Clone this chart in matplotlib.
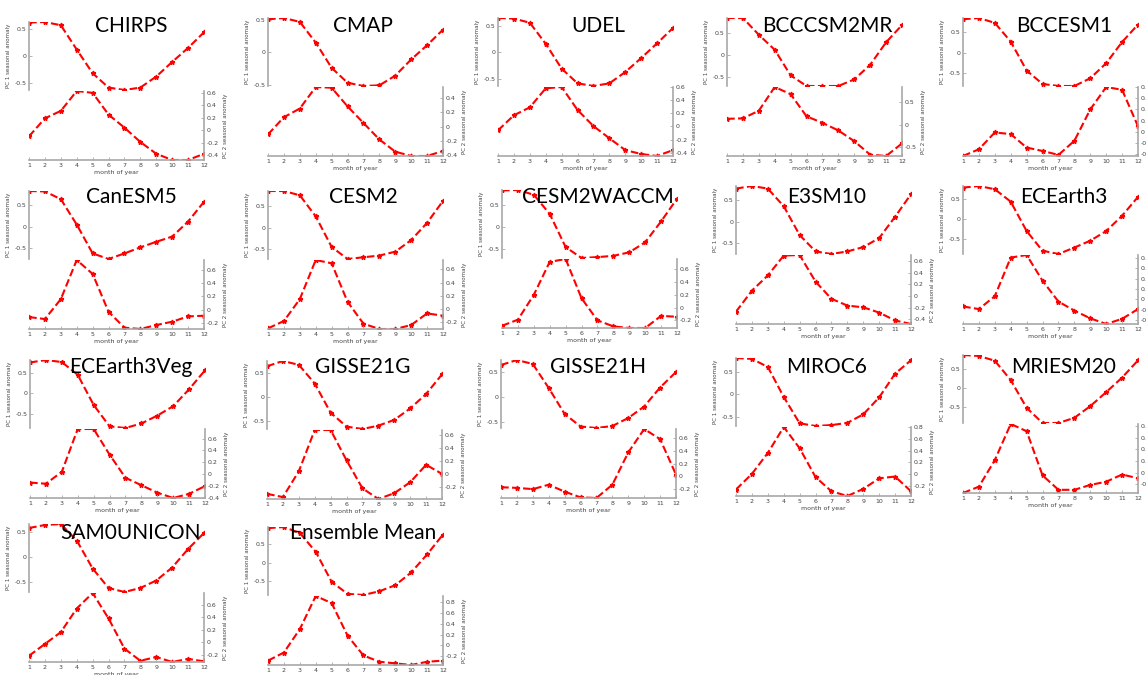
import numpy as np
import matplotlib
matplotlib.use("Agg")
import matplotlib.pyplot as plt
from matplotlib.ticker import MultipleLocator, FuncFormatter

plt.rcParams['axes.unicode_minus'] = False

months = list(range(1, 13))

models = ["CHIRPS", "CMAP", "UDEL", "BCCCSM2MR", "BCCESM1",
          "CanESM5", "CESM2", "CESM2WACCM", "E3SM10", "ECEarth3",
          "ECEarth3Veg", "GISSE21G", "GISSE21H", "MIROC6", "MRIESM20",
          "SAM0UNICON", "Ensemble Mean"]

# PC1 / PC2 seasonal anomaly
chirps_pc1 = [0.62, 0.63, 0.57, 0.12, -0.32, -0.585, -0.63, -0.585, -0.38, -0.11, 0.15, 0.44]
chirps_pc2 = [-0.10, 0.19, 0.31, 0.63, 0.60, 0.25, 0.04, -0.19, -0.38, -0.48, -0.48, -0.38]
cmap_pc1 = [0.51, 0.53, 0.47, 0.15, -0.24, -0.47, -0.52, -0.51, -0.36, -0.11, 0.11, 0.35]
cmap_pc2 = [-0.11, 0.13, 0.25, 0.55, 0.54, 0.28, 0.05, -0.18, -0.35, -0.41, -0.41, -0.34]
udel_pc1 = [0.65, 0.64, 0.56, 0.16, -0.31, -0.59, -0.64, -0.59, -0.375, -0.11, 0.17, 0.46]
udel_pc2 = [-0.06, 0.17, 0.29, 0.58, 0.60, 0.25, 0.005, -0.18, -0.36, -0.42, -0.45, -0.36]
bcccsm2mr_pc1 = [0.83, 0.83, 0.45, 0.11, -0.47, -0.71, -0.71, -0.71, -0.56, -0.23, 0.28, 0.67]
bcccsm2mr_pc2 = [0.13, 0.14, 0.31, 0.84, 0.68, 0.185, 0.04, -0.13, -0.37, -0.67, -0.70, -0.42]
bccesm1_pc1 = [0.82, 0.85, 0.73, 0.27, -0.44, -0.77, -0.82, -0.82, -0.63, -0.26, 0.26, 0.69]
bccesm1_pc2 = [-0.43, -0.31, -0.01, -0.04, -0.28, -0.34, -0.41, -0.16, 0.40, 0.80, 0.75, 0.10]
canesm5_pc1 = [0.83, 0.82, 0.64, 0.05, -0.62, -0.75, -0.62, -0.48, -0.35, -0.23, 0.12, 0.58]
canesm5_pc2 = [-0.11, -0.14, 0.16, 0.75, 0.54, -0.03, -0.27, -0.29, -0.23, -0.18, -0.10, -0.09]
cesm2_pc1 = [0.85, 0.85, 0.75, 0.26, -0.45, -0.73, -0.69, -0.65, -0.56, -0.29, 0.11, 0.62]
cesm2_pc2 = [-0.29, -0.18, 0.15, 0.74, 0.69, 0.11, -0.22, -0.30, -0.30, -0.24, -0.065, -0.10]
cesm2waccm_pc1 = [0.84, 0.85, 0.74, 0.30, -0.46, -0.71, -0.69, -0.66, -0.58, -0.35, 0.13, 0.65]
cesm2waccm_pc2 = [-0.285, -0.19, 0.20, 0.715, 0.76, 0.145, -0.20, -0.295, -0.32, -0.32, -0.13, -0.145]
e3sm10_pc1 = [0.77, 0.83, 0.77, 0.36, -0.31, -0.69, -0.75, -0.69, -0.59, -0.38, 0.115, 0.64]
e3sm10_pc2 = [-0.27, 0.09, 0.35, 0.69, 0.70, 0.245, -0.05, -0.165, -0.195, -0.285, -0.42, -0.48]
ecearth3_pc1 = [0.78, 0.82, 0.74, 0.43, -0.30, -0.79, -0.87, -0.71, -0.54, -0.30, 0.08, 0.55]
ecearth3_pc2 = [-0.14, -0.19, 0.06, 0.81, 0.86, 0.36, -0.045, -0.22, -0.37, -0.48, -0.38, -0.19]
ecearth3veg_pc1 = [0.75, 0.81, 0.76, 0.45, -0.28, -0.80, -0.84, -0.73, -0.54, -0.31, 0.10, 0.56]
ecearth3veg_pc2 = [-0.14, -0.16, 0.04, 0.76, 0.76, 0.33, -0.06, -0.185, -0.31, -0.40, -0.33, -0.20]
gisse21g_pc1 = [0.65, 0.76, 0.68, 0.29, -0.32, -0.61, -0.66, -0.59, -0.47, -0.23, 0.07, 0.48]
gisse21g_pc2 = [-0.31, -0.36, 0.04, 0.68, 0.68, 0.21, -0.225, -0.39, -0.30, -0.13, 0.14, 0.0]
gisse21h_pc1 = [0.63, 0.73, 0.65, 0.17, -0.35, -0.60, -0.63, -0.59, -0.43, -0.20, 0.18, 0.49]
gisse21h_pc2 = [-0.17, -0.18, -0.20, -0.13, -0.24, -0.33, -0.34, -0.13, 0.38, 0.75, 0.59, 0.03]
miroc6_pc1 = [0.81, 0.79, 0.61, -0.06, -0.65, -0.71, -0.69, -0.64, -0.45, -0.07, 0.46, 0.76]
miroc6_pc2 = [-0.26, 0.005, 0.36, 0.80, 0.44, -0.05, -0.29, -0.37, -0.25, -0.07, -0.04, -0.29]
mriesm20_pc1 = [0.87, 0.845, 0.72, 0.215, -0.51, -0.905, -0.905, -0.77, -0.465, -0.10, 0.28, 0.73]
mriesm20_pc2 = [-0.355, -0.245, 0.215, 0.84, 0.715, -0.05, -0.30, -0.30, -0.215, -0.16, -0.035, -0.10]
sam0unicon_pc1 = [0.58, 0.64, 0.66, 0.33, -0.23, -0.62, -0.70, -0.62, -0.47, -0.21, 0.16, 0.48]
sam0unicon_pc2 = [-0.22, -0.03, 0.16, 0.54, 0.79, 0.38, -0.105, -0.30, -0.24, -0.32, -0.27, -0.31]
ensmean_pc1 = [0.92, 0.95, 0.79, 0.29, -0.51, -0.83, -0.86, -0.76, -0.60, -0.26, 0.22, 0.75]
ensmean_pc2 = [-0.28, -0.13, 0.30, 0.91, 0.78, 0.18, -0.185, -0.30, -0.33, -0.36, -0.30, -0.28]

pc1_all = [chirps_pc1, cmap_pc1, udel_pc1, bcccsm2mr_pc1, bccesm1_pc1,
           canesm5_pc1, cesm2_pc1, cesm2waccm_pc1, e3sm10_pc1, ecearth3_pc1,
           ecearth3veg_pc1, gisse21g_pc1, gisse21h_pc1, miroc6_pc1, mriesm20_pc1,
           sam0unicon_pc1, ensmean_pc1]
pc2_all = [chirps_pc2, cmap_pc2, udel_pc2, bcccsm2mr_pc2, bccesm1_pc2,
           canesm5_pc2, cesm2_pc2, cesm2waccm_pc2, e3sm10_pc2, ecearth3_pc2,
           ecearth3veg_pc2, gisse21g_pc2, gisse21h_pc2, miroc6_pc2, mriesm20_pc2,
           sam0unicon_pc2, ensmean_pc2]

# layout in pixels (panels were pasted by hand, so small nudges per panel)
W, H = 1146, 675
col_left = [29, 268, 500, 733, 963]
title_cx = [131, 363, 598, 827, 1064]
ax_w = 175
row_top = [18, 189, 359, 525]
panel_h = 138
nudge_x = [0, 0, -2, -6, 0,
           0, 0, 2, 3, 0,
           1, -1, 1, 3, 0,
           0, 0]
nudge_y = [4, 0, 0, 0, 0,
           2, 2, 1, -3, -3,
           1, 2, 1, -1, -4,
           -1, 2]
SPINE = '#a8a8a8'
TXT = '#444444'


def fmt(v, pos):
    v = round(v, 3)
    if abs(v) < 1e-9:
        return '0'
    return '%g' % v


def style_line(ax, y):
    ax.plot(months, y, color='red', ls='--', lw=1.5, marker='*', ms=3.5,
            dashes=(3.7, 1.6))


def rect(x, y, w, h):
    return [x / W, 1 - (y + h) / H, w / W, h / H]


fig = plt.figure(figsize=(W / 100, H / 100), dpi=100)

for i, name in enumerate(models):
    r, c = divmod(i, 5)
    x0 = col_left[c] + nudge_x[i]
    y0 = row_top[r] + nudge_y[i]
    half = panel_h / 2.0
    p1 = pc1_all[i]
    p2 = pc2_all[i]

    # upper axes: PC1 with left axis only
    ax1 = fig.add_axes(rect(x0, y0, ax_w, half - 1))
    style_line(ax1, p1)
    ax1.set_xlim(1, 12)
    ax1.set_ylim(min(p1), max(p1))
    ax1.patch.set_alpha(0)
    for s in ['top', 'right', 'bottom']:
        ax1.spines[s].set_visible(False)
    ax1.spines['left'].set_color(SPINE)
    ax1.spines['left'].set_linewidth(1.2)
    ax1.set_xticks([])
    ax1.yaxis.set_major_locator(MultipleLocator(0.5))
    ax1.yaxis.set_major_formatter(FuncFormatter(fmt))
    ax1.tick_params(axis='y', direction='in', length=2, width=0.6, color=SPINE,
                    labelsize=4.5, labelcolor=TXT, pad=2)
    ax1.set_ylabel('PC 1 seasonal anomaly', fontsize=4, color=TXT, labelpad=2)

    # lower axes: PC2 with right axis and month axis
    ax2 = fig.add_axes(rect(x0, y0 + half, ax_w, half))
    style_line(ax2, p2)
    ax2.set_xlim(1, 12)
    ax2.set_ylim(min(p2), max(p2))
    ax2.patch.set_alpha(0)
    for s in ['top', 'left']:
        ax2.spines[s].set_visible(False)
    for s in ['right', 'bottom']:
        ax2.spines[s].set_color(SPINE)
        ax2.spines[s].set_linewidth(1.2)
    ax2.yaxis.tick_right()
    ax2.yaxis.set_label_position('right')
    step = 0.5 if max(p2) - min(p2) > 1.4 else 0.2
    ax2.yaxis.set_major_locator(MultipleLocator(step))
    ax2.yaxis.set_major_formatter(FuncFormatter(fmt))
    ax2.set_xticks(months)
    ax2.tick_params(direction='in', length=2, width=0.6, color=SPINE,
                    labelsize=4.5, labelcolor=TXT, pad=2)
    ax2.set_ylabel('PC 2 seasonal anomaly', fontsize=4, color=TXT, labelpad=3,
                   rotation=90)
    ax2.set_xlabel('month of year', fontsize=4.5, color=TXT, labelpad=1.5)

    fig.text(title_cx[c] / W, 1 - (row_top[r] + 8) / H, name,
             fontsize=15, family='Lato', ha='center', va='center',
             color='black', zorder=10)

fig.savefig('out.png', dpi=100, facecolor='white')
